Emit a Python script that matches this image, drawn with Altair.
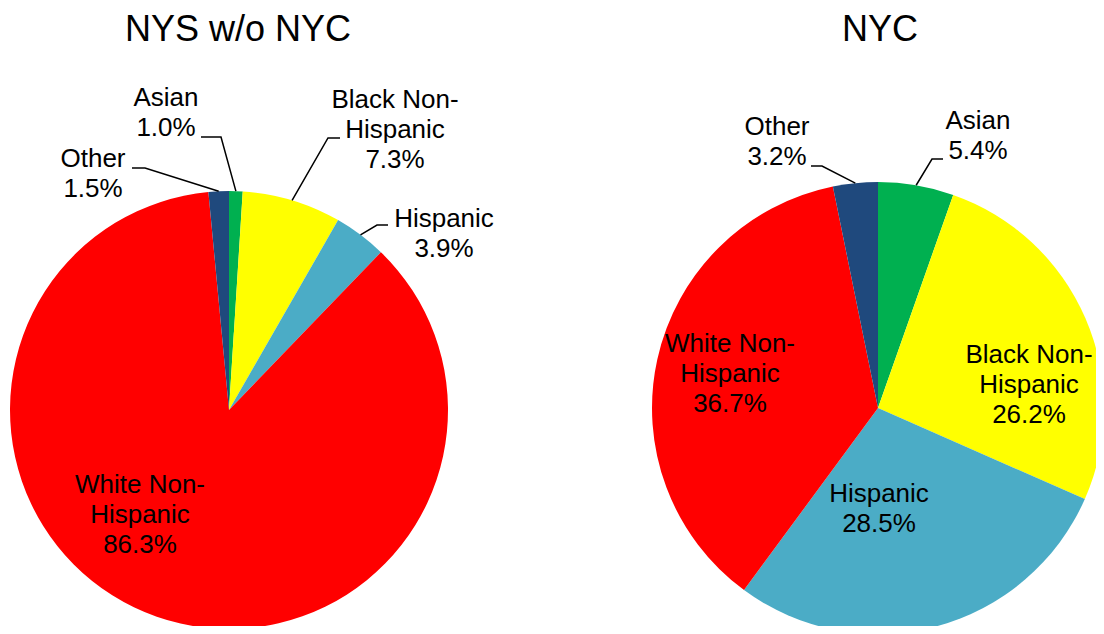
import altair as alt
import pandas as pd
import numpy as np

# ---- data ----
categories = ["Asian", "Black Non-Hispanic", "Hispanic", "White Non-Hispanic", "Other"]
label_names = ["Asian", "Black Non-\nHispanic", "Hispanic", "White Non-\nHispanic", "Other"]
nys_values = [1.0, 7.3, 3.9, 86.3, 1.5]
nyc_values = [5.4, 26.2, 28.5, 36.7, 3.2]
pie_titles = ["NYS w/o NYC", "NYC"]
colors = ["#00B050", "#FFFF00", "#4BACC6", "#FF0000", "#1F497D"]

# ---- layout (pixels, chart coordinates) ----
FONT = "Liberation Sans"
pie_layout = {
    "NYS w/o NYC": dict(cx=221, cy=402, r=219, tx=230, ty=33),
    "NYC": dict(cx=870, cy=400, r=226, tx=872, ty=33),
}
# label first-baseline position; leader: (label-side end x, elbow x, y) or None
label_layout = {
    "NYS w/o NYC": {
        "Asian": ((158, 98), (193, 213, 129)),
        "Black Non-Hispanic": ((387, 100), (332, 320, 130)),
        "Hispanic": ((436, 219), (380, 369, 217)),
        "White Non-Hispanic": ((132, 485), None),
        "Other": ((85, 159), (124, 137, 160)),
    },
    "NYC": {
        "Asian": ((970, 121), (935, 924, 151)),
        "Black Non-Hispanic": ((1021, 355), None),
        "Hispanic": ((871, 494), None),
        "White Non-Hispanic": ((722, 344), None),
        "Other": ((769, 127), (803, 814, 158)),
    },
}

rows, labels, leaders, titles = [], [], [], []
for title, vals in zip(pie_titles, [nys_values, nyc_values]):
    lay = pie_layout[title]
    titles.append(dict(pie=title, x=lay["tx"], y=lay["ty"]))
    total = sum(vals)
    cum = 0.0
    for i, (cat, name, v) in enumerate(zip(categories, label_names, vals)):
        rows.append(dict(pie=title, category=cat, value=v, idx=i))
        mid = (cum + v / 2) / total * 2 * np.pi
        cum += v
        (lx, ly), lead = label_layout[title][cat]
        labels.append(dict(pie=title, x=lx, y=ly, text=f"{name}\n{v:.1f}%"))
        if lead is not None:
            ax = lay["cx"] + lay["r"] * np.sin(mid)
            ay = lay["cy"] - lay["r"] * np.cos(mid)
            key = f"{title}-{cat}"
            leaders += [
                dict(key=key, o=0, x=lead[0], y=lead[2]),
                dict(key=key, o=1, x=lead[1], y=lead[2]),
                dict(key=key, o=2, x=ax, y=ay),
            ]

df = pd.DataFrame(rows)
lab_df = pd.DataFrame(labels)
lead_df = pd.DataFrame(leaders)
title_df = pd.DataFrame(titles)

layers = []
for title in pie_titles:
    lay = pie_layout[title]
    layers.append(
        alt.Chart(df)
        .transform_filter(alt.datum.pie == title)
        .mark_arc(radius=lay["r"])
        .encode(
            theta=alt.Theta("value:Q", stack=True),
            color=alt.Color("category:N", scale=alt.Scale(domain=categories, range=colors), legend=None),
            order=alt.Order("idx:Q"),
            x=alt.value(lay["cx"]),
            y=alt.value(lay["cy"]),
        )
    )

leader_layer = alt.Chart(lead_df).mark_line(color="black", strokeWidth=1.5).encode(
    x=alt.X("x:Q", scale=None, axis=None),
    y=alt.Y("y:Q", scale=None, axis=None),
    detail="key:N",
    order="o:Q",
)

label_layer = alt.Chart(lab_df).mark_text(
    font=FONT, fontSize=26, lineBreak="\n", lineHeight=30,
    align="center", baseline="alphabetic", color="black",
).encode(
    x=alt.X("x:Q", scale=None, axis=None),
    y=alt.Y("y:Q", scale=None, axis=None),
    text="text:N",
)

title_layer = alt.Chart(title_df).mark_text(
    font=FONT, fontSize=36, align="center", baseline="alphabetic", color="black",
).encode(
    x=alt.X("x:Q", scale=None, axis=None),
    y=alt.Y("y:Q", scale=None, axis=None),
    text="pie:N",
)

chart = (
    alt.layer(*layers, leader_layer, label_layer, title_layer)
    .resolve_scale(theta="independent")
    .properties(width=1088, height=618, padding=0, autosize="none", background="white")
    .configure_view(stroke=None)
)

chart.save("out.html", embed_options={"renderer": "svg", "actions": False})
